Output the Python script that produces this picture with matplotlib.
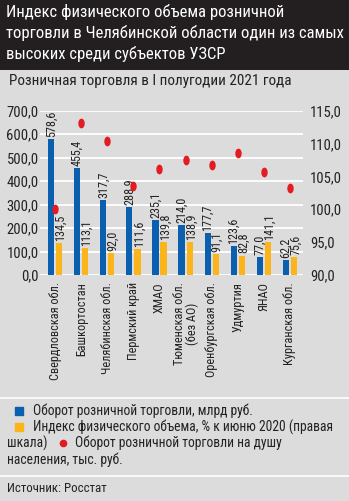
import numpy as np
import matplotlib
matplotlib.use('Agg')
import matplotlib.pyplot as plt
from matplotlib import font_manager
from matplotlib.path import Path
from matplotlib.transforms import Affine2D

# data
regions = ['Свердловская обл.', 'Башкортостан', 'Челябинская обл.', 'Пермский край',
           'ХМАО', 'Тюменская обл.\n(без АО)', 'Оренбургская обл.', 'Удмуртия',
           'ЯНАО', 'Курганская обл.']
turnover = [578.6, 455.4, 317.7, 288.9, 235.1, 214.0, 177.7, 123.6, 77.0, 62.2]
volume_index = [134.5, 113.1, 92.0, 111.6, 139.8, 138.9, 91.1, 82.8, 141.1, 75.6]
per_capita = [100.0, 113.2, 110.4, 103.6, 106.1, 107.5, 106.8, 108.5, 105.7, 103.3]
left_ticks = [0, 100, 200, 300, 400, 500, 600, 700]
right_ticks = [90, 95, 100, 105, 110, 115]

BLUE = '#0a5fae'
ORANGE = '#fbb41a'
RED = '#e31b23'
BG = '#dcdcdc'
DARK = '#231f20'
TXT = '#222222'

# pick a narrow face if one is installed
names = {f.name for f in font_manager.fontManager.ttflist}
FONT = 'Roboto'
for cand in ['Roboto Condensed', 'Liberation Sans Narrow', 'Arial Narrow', 'DejaVu Sans Condensed']:
    if cand in names:
        FONT = cand
        break
plt.rcParams['font.family'] = [FONT, 'DejaVu Sans']


def fmt(v):
    return f'{v:.1f}'.replace('.', ',')


W, H = 349, 501
fig = plt.figure(figsize=(W / 100, H / 100), dpi=100, facecolor=BG)

# black title block
fig.patches.append(plt.Rectangle((0, 1 - 70 / H), 1, 70 / H, transform=fig.transFigure,
                                 facecolor=DARK, edgecolor='none', zorder=0))
fig.text(6 / W, 1 - 4 / H,
         'Индекс физического объема розничной\nторговли в Челябинской области один из самых\nвысоких среди субъектов УЗСР',
         color='white', fontsize=12.0, va='top', ha='left', linespacing=1.38)
fig.text(9 / W, 1 - 81 / H, 'Розничная торговля в I полугодии 2021 года',
         color=TXT, fontsize=10.9, va='center', ha='left')

# separators
for y in (398, 476):
    fig.add_artist(plt.Line2D([0, 1], [1 - y / H, 1 - y / H], transform=fig.transFigure,
                              color='white', lw=1.2))

ax = fig.add_axes([40 / W, 1 - 275 / H, 263 / W, 164.3 / H])
ax.set_facecolor('none')
x = np.arange(len(regions))
bw = 0.24
off = 0.155
ax.bar(x - off, turnover, bw, color=BLUE, zorder=3)
ax.bar(x + off, volume_index, bw, color=ORANGE, zorder=3)
for xi, v in zip(x, turnover):
    ax.annotate(fmt(v), (xi - off, v), xytext=(0, 1.5), textcoords='offset points',
                rotation=90, ha='center', va='bottom', fontsize=8.7, color=TXT)
for xi, v in zip(x, volume_index):
    ax.annotate(fmt(v), (xi + off, v), xytext=(1, 1.5), textcoords='offset points',
                rotation=90, ha='center', va='bottom', fontsize=8.7, color=TXT)

ax.set_ylim(0, 700)
ax.set_xlim(-0.58, 9.5)
ax.set_yticks(left_ticks)
ax.set_yticklabels([fmt(t) for t in left_ticks], fontsize=10.5, color=TXT)
ax.set_xticks(x)
ax.set_xticklabels(regions, rotation=90, fontsize=8.8, color=TXT, ha='center', va='top',
                   linespacing=0.95)
ax.tick_params(length=0, pad=1)
ax.tick_params(axis='x', pad=5)
ax.grid(axis='y', color='white', lw=1.3, zorder=0)
for s in ax.spines.values():
    s.set_visible(False)

ell = Path.unit_circle().transformed(Affine2D().scale(0.6, 1.0))
ax2 = ax.twinx()
ax2.plot(x, per_capita, ls='none', marker=ell, ms=6, color=RED, zorder=4)
ax2.set_ylim(90, 115)
ax2.set_yticks(right_ticks)
ax2.set_yticklabels([fmt(t) for t in right_ticks], fontsize=10.5, color=TXT)
ax2.tick_params(length=0, pad=5)
for s in ax2.spines.values():
    s.set_visible(False)

# legend
sq = dict(marker='s', ms=5.5, ls='none', transform=fig.transFigure, clip_on=False)
fig.add_artist(plt.Line2D([19 / W], [1 - 411 / H], color=BLUE, **sq))
fig.text(33 / W, 1 - 411 / H, 'Оборот розничной торговли, млрд руб.', fontsize=9.8,
         va='center', color=TXT)
fig.add_artist(plt.Line2D([19 / W], [1 - 427 / H], color=ORANGE, **sq))
fig.text(33 / W, 1 - 427 / H, 'Индекс физического объема, % к июню 2020 (правая', fontsize=9.8,
         va='center', color=TXT)
fig.text(7 / W, 1 - 443 / H, 'шкала)', fontsize=9.8, va='center', color=TXT)
fig.add_artist(plt.Line2D([63 / W], [1 - 443 / H], marker='o', ms=4.5, ls='none', color=RED,
                          transform=fig.transFigure))
fig.text(75 / W, 1 - 443 / H, 'Оборот розничной торговли на душу', fontsize=9.8,
         va='center', color=TXT)
fig.text(7 / W, 1 - 460 / H, 'населения, тыс. руб.', fontsize=9.8, va='center', color=TXT)

fig.text(7 / W, 1 - 488 / H, 'Источник: Росстат', fontsize=9.3, va='center', color=TXT)

fig.savefig('out.png', dpi=100, facecolor=BG)
